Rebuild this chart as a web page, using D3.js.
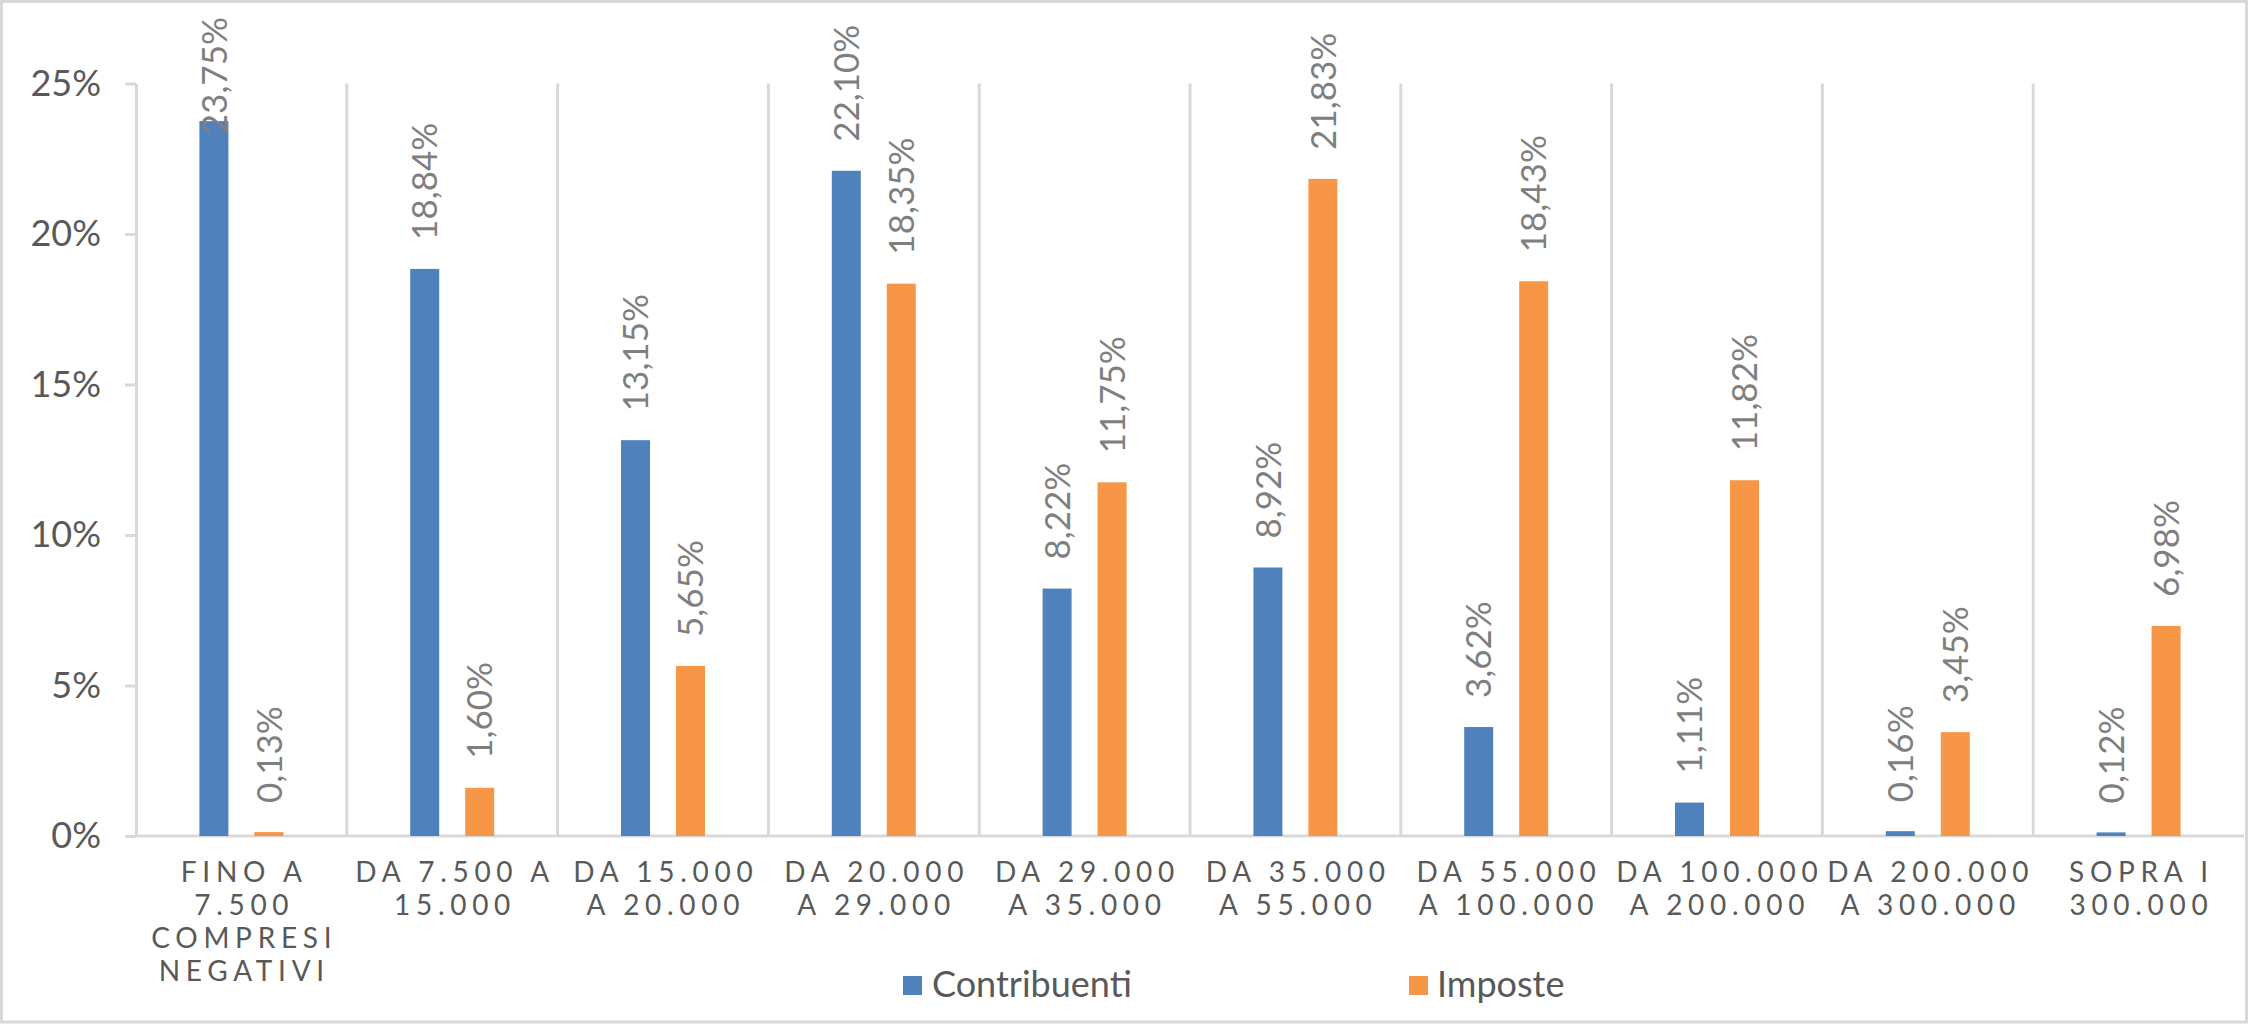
<!DOCTYPE html>
<html>
<head>
<meta charset="utf-8">
<script src="https://cdn.jsdelivr.net/npm/d3@7"></script>
<style>
  html, body { margin: 0; padding: 0; background: #fff; }
  svg { display: block; }
  text { font-family: Lato, "Open Sans", sans-serif; }
</style>
</head>
<body>
<svg id="chart" width="2248" height="1024"></svg>
<script>
// ---- data ----
const categories = [
  "FINO A 7.500 COMPRESI NEGATIVI",
  "DA 7.500 A 15.000",
  "DA 15.000 A 20.000",
  "DA 20.000 A 29.000",
  "DA 29.000 A 35.000",
  "DA 35.000 A 55.000",
  "DA 55.000 A 100.000",
  "DA 100.000 A 200.000",
  "DA 200.000 A 300.000",
  "SOPRA I 300.000"
];
const categoryLines = [
  ["FINO A", "7.500", "COMPRESI", "NEGATIVI"],
  ["DA 7.500 A", "15.000"],
  ["DA 15.000", "A 20.000"],
  ["DA 20.000", "A 29.000"],
  ["DA 29.000", "A 35.000"],
  ["DA 35.000", "A 55.000"],
  ["DA 55.000", "A 100.000"],
  ["DA 100.000", "A 200.000"],
  ["DA 200.000", "A 300.000"],
  ["SOPRA I", "300.000"]
];
const seriesNames = ["Contribuenti", "Imposte"];
const contribuenti = [23.75, 18.84, 13.15, 22.10, 8.22, 8.92, 3.62, 1.11, 0.16, 0.12];
const imposte      = [0.13, 1.60, 5.65, 18.35, 11.75, 21.83, 18.43, 11.82, 3.45, 6.98];
const yTicks = [0, 5, 10, 15, 20, 25];
const colors = ["#4f81bd", "#f79646"];

// ---- layout ----
const W = 2248, H = 1024;
const plot = { left: 136, right: 2244, top: 83.5, bottom: 836 };
const gridColor = "#d9d9d9";
const fmt = v => v.toFixed(2).replace(".", ",") + "%";

const svg = d3.select("#chart");

// chart border
svg.append("rect")
  .attr("x", 1.5).attr("y", 1.5)
  .attr("width", W - 3).attr("height", H - 3.5)
  .attr("fill", "#fff").attr("stroke", gridColor).attr("stroke-width", 3);

const x0 = d3.scaleBand().domain(categories).range([plot.left, plot.right]).paddingInner(0).paddingOuter(0);
const x1 = d3.scaleBand().domain(seriesNames).range([0, x0.bandwidth()]).paddingInner(0.4727).paddingOuter(1.153);
const y = d3.scaleLinear().domain([0, 25]).range([plot.bottom, plot.top]);

// vertical category separators
svg.append("g").selectAll("line")
  .data(categories.slice(1))
  .join("line")
  .attr("x1", d => x0(d)).attr("x2", d => x0(d))
  .attr("y1", plot.top).attr("y2", plot.bottom)
  .attr("stroke", gridColor).attr("stroke-width", 3);

// y axis
const yAxis = d3.axisLeft(y)
  .tickValues(yTicks)
  .tickFormat(d => d + "%")
  .tickSize(11)
  .tickSizeOuter(0)
  .tickPadding(24);
const gy = svg.append("g").attr("transform", `translate(${plot.left},0)`).call(yAxis);
gy.select(".domain").attr("stroke", gridColor).attr("stroke-width", 3);
gy.selectAll(".tick line").attr("stroke", gridColor).attr("stroke-width", 3);
gy.selectAll(".tick text")
  .attr("fill", "#595959")
  .style("font-size", "36px")
  .style("font-family", "Lato, sans-serif");

// x axis baseline
svg.append("line")
  .attr("x1", plot.left).attr("x2", plot.right)
  .attr("y1", y(0)).attr("y2", y(0))
  .attr("stroke", gridColor).attr("stroke-width", 3);

// bars
const seriesData = [contribuenti, imposte];
const rows = [];
categories.forEach((c, i) => {
  seriesNames.forEach((s, j) => rows.push({ cat: c, series: s, j, value: seriesData[j][i] }));
});

svg.append("g").selectAll("rect")
  .data(rows)
  .join("rect")
  .attr("x", d => x0(d.cat) + x1(d.series))
  .attr("y", d => y(d.value))
  .attr("width", x1.bandwidth())
  .attr("height", d => y(0) - y(d.value))
  .attr("fill", d => colors[d.j]);

// data labels (rotated)
const labels = svg.append("g").selectAll("text")
  .data(rows)
  .join("text")
  .text(d => fmt(d.value))
  .attr("fill", "#7f7f7f")
  .style("font-size", "35px")
  .attr("text-anchor", "start")
  .attr("dy", "0.36em");
labels.each(function(d) {
  const len = this.getComputedTextLength();
  let start = y(d.value) - 29;
  const minTop = 17;
  if (start - len < minTop) start = minTop + len;
  const cx = x0(d.cat) + x1(d.series) + x1.bandwidth() / 2;
  d3.select(this).attr("transform", `translate(${cx},${start}) rotate(-90)`);
});

// category labels
const ls = 5.7;
const catG = svg.append("g");
categories.forEach((c, i) => {
  const cx = x0(c) + x0.bandwidth() / 2;
  const t = catG.append("text")
    .attr("text-anchor", "middle")
    .attr("fill", "#595959")
    .style("font-size", "28px")
    .style("letter-spacing", ls + "px");
  categoryLines[i].forEach((line, k) => {
    t.append("tspan")
      .attr("x", cx + ls / 2)
      .attr("y", 882 + k * 33)
      .text(line);
  });
});

// legend
const legendItems = [
  { name: seriesNames[0], color: colors[0], sx: 903, tx: 932 },
  { name: seriesNames[1], color: colors[1], sx: 1409, tx: 1437 }
];
const lg = svg.append("g");
legendItems.forEach(it => {
  lg.append("rect").attr("x", it.sx).attr("y", 976).attr("width", 19).attr("height", 19).attr("fill", it.color);
  lg.append("text").attr("x", it.tx).attr("y", 997)
    .attr("fill", "#595959").style("font-size", "36px").text(it.name);
});
</script>
</body>
</html>
